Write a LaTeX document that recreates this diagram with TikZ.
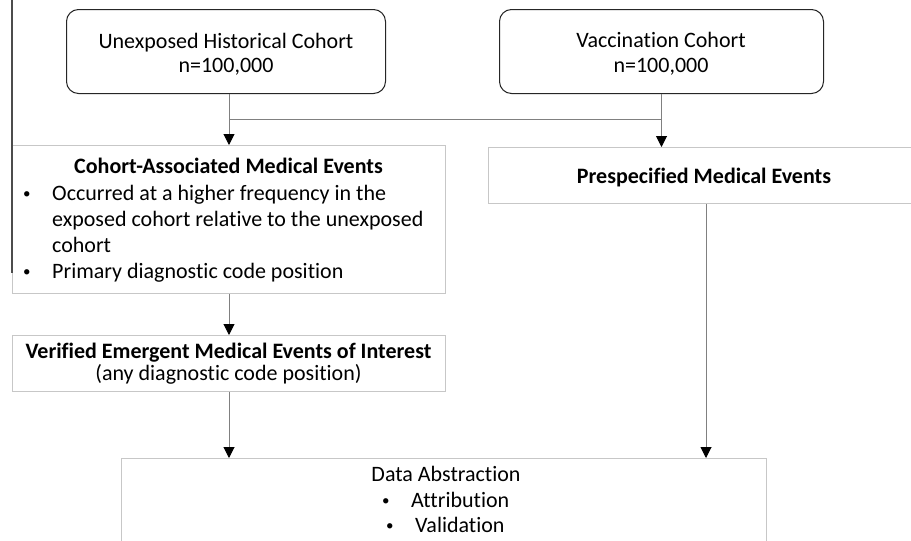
\documentclass[tikz,border=0pt]{standalone}
\usepackage{fontspec}
\setmainfont{Carlito}[Ligatures=NoCommon]
\usetikzlibrary{arrows.meta}
\newcommand{\smallbul}{\raisebox{2pt}{\fontsize{15}{15}\selectfont •}}
\begin{document}
\begin{tikzpicture}[x=1pt,y=-1pt,
  rbox/.style={draw=black!85, line width=1pt, rounded corners=12pt, anchor=north west, inner sep=0pt},
  gbox/.style={draw=black!22, line width=1.3pt, anchor=north west, inner sep=0pt},
  conn/.style={draw=black!50, line width=1pt},
  arr/.style={conn, -{Triangle[width=11pt,length=11pt,color=black]}},
  txt/.style={font=\fontsize{22}{25}\selectfont, inner sep=0pt, anchor=base},
  btxt/.style={txt, font=\fontsize{22}{25}\selectfont\bfseries},
  ltxt/.style={txt, anchor=base west},
]
\useasboundingbox (0,0) rectangle (911,541);
\clip (0,0) rectangle (911,541);
\fill[white] (0,0) rectangle (911,541);

% boxes
\node[rbox, minimum width=319pt, minimum height=84pt] (uhc) at (66,9) {};
\node[rbox, minimum width=324pt, minimum height=84pt] (vc) at (499,9) {};
\node[gbox, minimum width=433pt, minimum height=148pt] (cae) at (12,145) {};
\node[gbox, minimum width=432pt, minimum height=56pt] (pme) at (488,147) {};
\node[gbox, minimum width=433pt, minimum height=56pt] (vem) at (12,335) {};
\node[gbox, minimum width=645pt, minimum height=120pt] (da) at (121,458) {};

% texts
\node[txt] (uhc1) at (226,48) {Unexposed Historical Cohort};
\node[txt] (uhc2) at (226,72) {n=100,000};
\node[txt] (vc1) at (661,47) {Vaccination Cohort};
\node[txt] (vc2) at (661,72) {n=100,000};
\node[btxt] (pme1) at (704,183) {Prespecified Medical Events};

\node[btxt] (cae1) at (228.5,173) {Cohort-Associated Medical Events};
\node[ltxt] (caeb1) at (23,200) {\smallbul};
\node[ltxt] (cae2) at (52,200) {Occurred at a higher frequency in the};
\node[ltxt] (cae3) at (52,226) {exposed cohort relative to the unexposed};
\node[ltxt] (cae4) at (52,252) {cohort};
\node[ltxt] (caeb2) at (23,278) {\smallbul};
\node[ltxt] (cae5) at (52,278) {Primary diagnostic code position};

\node[btxt] (vem1) at (228.5,358) {Verified Emergent Medical Events of Interest};
\node[txt] (vem2) at (228.5,380) {(any diagnostic code position)};

\node[txt] (da1) at (446,481) {Data Abstraction};
\node[ltxt] (dab1) at (382,507) {\smallbul};
\node[ltxt] (da2) at (411,507) {Attribution};
\node[ltxt] (dab2) at (386,532) {\smallbul};
\node[ltxt] (da3) at (415,532) {Validation};

% connectors
\coordinate (xl) at (229,0);
\coordinate (xr) at (706,0);
\coordinate (j1) at (229,119);
\coordinate (j2) at (661,119);
\draw[arr] (uhc.south -| xl) -- (cae.north -| xl);
\draw[conn] (j1) -- (j2);
\draw[arr] (vc.south) -- (pme.north -| vc.south);
\draw[arr] (cae.south -| xl) -- (vem.north -| xl);
\draw[arr] (vem.south -| xl) -- (da.north -| xl);
\draw[arr] (pme.south -| xr) -- (da.north -| xr);

% left edge line
\coordinate (lt) at (12,0);
\coordinate (lb) at (12,273);
\draw[draw=black!70, line width=1.2pt] (lt) -- (lb);
\end{tikzpicture}
\end{document}
